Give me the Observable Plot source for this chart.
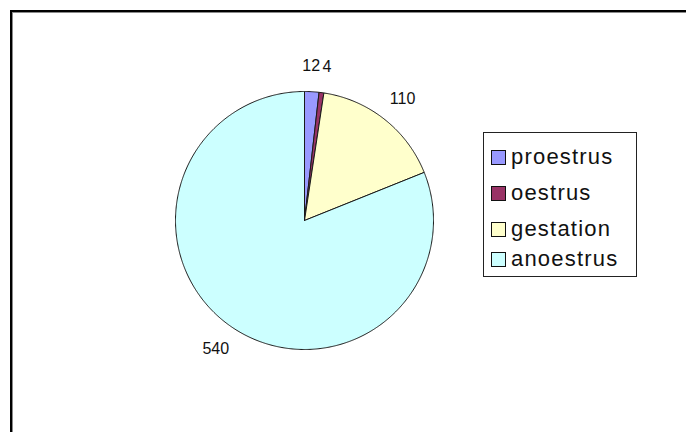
<!DOCTYPE html>
<html>
<head>
<meta charset="utf-8">
<script src="https://cdn.jsdelivr.net/npm/d3@7"></script>
<script src="https://cdn.jsdelivr.net/npm/@observablehq/plot@0.6"></script>
<style>
  html, body { margin: 0; padding: 0; background: #fff; width: 686px; height: 432px; overflow: hidden; }
  #frame { position: absolute; left: 10px; top: 10px; width: 720px; height: 460px;
           border-left: 2px solid #000; border-top: 2px solid #000;
           box-shadow: inset 1px 1px 0 #8a8a8a; }
  #chart { position: absolute; left: 0; top: 0; }
  #legend { position: absolute; left: 483px; top: 132px; width: 152px; height: 143px;
            border: 1px solid #222; background: #fff;
            font-family: "Liberation Sans", Arial, sans-serif; font-size: 22px; letter-spacing: 1.2px; color: #111; }
  .item { position: absolute; left: 7px; height: 24px; display: flex; align-items: center; white-space: nowrap; }
  .sw { width: 15px; height: 15px; border: 1.5px solid #111; margin-right: 5px; box-sizing: border-box; flex: none; }
</style>
</head>
<body>
<div id="frame"></div>
<div id="chart"></div>
<div id="legend"></div>
<script>
const categories = ["proestrus", "oestrus", "gestation", "anoestrus"];
const values = [12, 4, 110, 540];
const colors = ["#9999FF", "#993366", "#FFFFCC", "#CCFFFF"];

const arcs = d3.pie().sort(null)(values).map((a, i) => ({...a, cat: categories[i]}));

// polygon vertices for each slice, in unit-circle data space
const pts = [];
for (const a of arcs) {
  pts.push({cat: a.cat, x: 0, y: 0});
  const n = Math.max(2, Math.ceil((a.endAngle - a.startAngle) / (Math.PI / 360)));
  for (let k = 0; k <= n; k++) {
    const t = a.startAngle + (a.endAngle - a.startAngle) * k / n;
    pts.push({cat: a.cat, x: Math.sin(t), y: Math.cos(t)});
  }
  pts.push({cat: a.cat, x: 0, y: 0});
}
const labels = arcs.map(a => {
  const m = (a.startAngle + a.endAngle) / 2;
  return {cat: a.cat, value: a.data, s: Math.sin(m), x: 1.2 * Math.sin(m), y: 1.2 * Math.cos(m)};
});
const leftLabels = labels.filter(d => d.s < 0.1);
const rightLabels = labels.filter(d => d.s >= 0.1);

const R = 129, cx = 304, cy = 220, W = 686, H = 432;
const textOpts = {x: "x", y: "y", text: d => String(d.value), fontSize: 16, fill: "#111", textAnchor: "middle"};
const chart = Plot.plot({
  width: W, height: H,
  margin: 0,
  x: {domain: [-cx / R, (W - cx) / R], axis: null},
  y: {domain: [(cy - H) / R, cy / R], axis: null},
  color: {domain: categories, range: colors},
  style: {background: "transparent", fontFamily: "'Liberation Sans', Arial, sans-serif"},
  marks: [
    Plot.line(pts, {x: "x", y: "y", z: "cat", fill: "cat", stroke: "#1a1a1a", strokeWidth: 1, curve: "linear"}),
    Plot.text(leftLabels, {...textOpts, dx: -2}),
    Plot.text(rightLabels, {...textOpts, dx: 2})
  ]
});
document.getElementById("chart").appendChild(chart);

const legend = document.getElementById("legend");
const tops = [12, 48, 84, 114];
categories.forEach((c, i) => {
  const it = document.createElement("div");
  it.className = "item";
  it.style.top = tops[i] + "px";
  const sw = document.createElement("div");
  sw.className = "sw";
  sw.style.background = colors[i];
  const tx = document.createElement("span");
  tx.textContent = c;
  it.appendChild(sw); it.appendChild(tx);
  legend.appendChild(it);
});
</script>
</body>
</html>
